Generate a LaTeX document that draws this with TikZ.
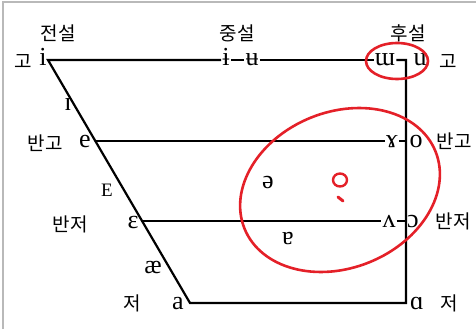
\documentclass[tikz,border=0pt]{standalone}
\usepackage{fontspec}
\setmainfont{Liberation Serif}
\newfontfamily\korfont{Noto Sans CJK KR}
\definecolor{ringred}{RGB}{228,32,40}
\tikzset{
  vowel/.style={font=\fontsize{26}{26}\selectfont, inner sep=1pt, anchor=base, yshift=-6pt},
  kor/.style={font=\korfont\fontsize{19}{19}\selectfont, inner sep=0pt},
  chart/.style={line width=2.2pt},
  redring/.style={draw=ringred, line width=2.6pt}
}
\begin{document}
\begin{tikzpicture}[x=1pt, y=-1pt]
    \useasboundingbox (0,0) rectangle (476,329);
    % frame of the scan
    \draw[gray!55, line width=1.4pt] (3,329) -- (3,2) -- (476,2);

    % column headers
    \node[kor] (front) at (58,33) {전설};
    \node[kor] (central) at (237,33) {중설};
    \node[kor] (back) at (408,33) {후설};

    % height labels
    \node[kor] (closeL) at (23,62) {고};
    \node[kor] (closemidL) at (45,143) {반고};
    \node[kor] (openmidL) at (70,224) {반저};
    \node[kor] (openL) at (132,303) {저};
    \node[kor] (closeR) at (448,62) {고};
    \node[kor] (closemidR) at (454,141) {반고};
    \node[kor] (openmidR) at (453,221) {반저};
    \node[kor] (openR) at (449,303) {저};

    % corners of the trapezoid
    \coordinate (fc) at (48,60);
    \coordinate (fo) at (190,303);
    \coordinate (bc) at (406,60);
    \coordinate (bo) at (406,303);
    \coordinate (fcm) at (95,141);
    \coordinate (bcm) at (406,141);
    \coordinate (fom) at (142,221);
    \coordinate (bom) at (406,221);

    % vowels
    \node[vowel] (i) at (43,60) {i};
    \node[vowel] (ibar) at (226,60) {ɨ};
    \node[vowel] (ubar) at (252,60) {ʉ};
    \node[vowel] (wm) at (385,60) {ɯ};
    \node[vowel] (u) at (420,60) {u};
    \node[vowel] (ismall) at (68,104) {ɪ};
    \node[vowel] (e) at (85,141) {e};
    \node[vowel] (ry) at (392,141) {ɤ};
    \node[vowel] (o) at (416,141) {o};
    \node[vowel, font=\fontsize{19}{19}\selectfont] (esmall) at (107,190) {E};
    \node[vowel] (schwa) at (268,182) {ə};
    \node[vowel] (eps) at (133,222) {ɛ};
    \node[vowel] (vturned) at (389,221) {ʌ};
    \node[vowel] (oopen) at (413,221) {ɔ};
    \node[vowel] (ash) at (153,267) {æ};
    \node[vowel] (atrn) at (288,238) {ɐ};
    \node[vowel] (a) at (178,303) {a};
    \node[vowel] (alpha) at (417,303) {ɑ};

    % chart lines
    \draw[chart] (wm.east |- bc) -- (bc) -- (bo) -- (fo) -- (fc) -- (ibar.west |- fc);
    \draw[chart] (ibar.east |- fc) -- (ubar.west |- fc);
    \draw[chart] (ubar.east |- fc) -- (wm.west |- fc);
    \draw[chart] (fcm) -- (ry.west |- fcm);
    \draw[chart] (ry.east |- bcm) -- (bcm);
    \draw[chart] (fom) -- (vturned.west |- fom);
    \draw[chart] (vturned.east |- bom) -- (bom);

    % red marks
    \draw[redring] (397,61) ellipse [x radius=31, y radius=18];
    \draw[redring, rotate around={22:(340,190)}] (340,190) ellipse [x radius=103, y radius=78];
    \draw[redring, line width=2.4pt] (340,180) ellipse [x radius=7, y radius=6.5];
    \draw[ringred, line width=3pt, line cap=round] (338,197) -- (343,201);
\end{tikzpicture}
\end{document}
